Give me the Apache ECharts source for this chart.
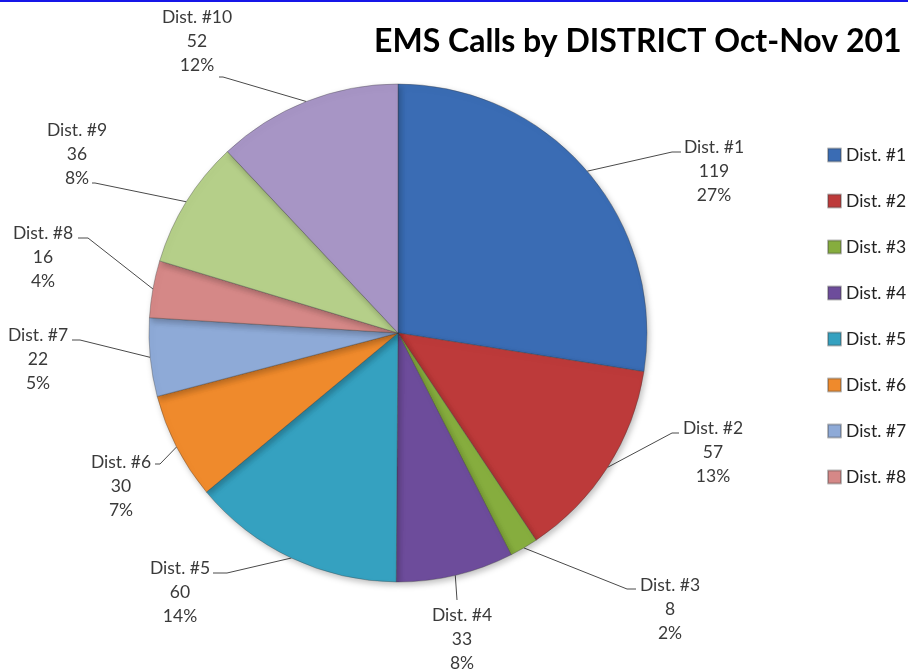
<!DOCTYPE html>
<html>
<head>
<meta charset="utf-8">
<script src="https://cdn.jsdelivr.net/npm/echarts@6/dist/echarts.min.js"></script>
<style>
  html, body { margin: 0; padding: 0; background: #fff; }
  #chart { width: 908px; height: 670px; }
</style>
</head>
<body>
<div id="chart"></div>
<script>
const districts = ['Dist. #1', 'Dist. #2', 'Dist. #3', 'Dist. #4', 'Dist. #5',
  'Dist. #6', 'Dist. #7', 'Dist. #8', 'Dist. #9', 'Dist. #10'];
const calls = [119, 57, 8, 33, 60, 30, 22, 16, 36, 52];
// legend in the picture is cut after #8
const legendNames = districts.slice(0, 8);

const COLORS = ['#3a6cb4', '#bd3a3a', '#86ad3e', '#6d4c9b', '#35a1c0',
  '#ef8a2c', '#8eaad7', '#d58887', '#b5cf89', '#a795c5'];

// label placement: [text centre x, first line centre y, bend x, bend y, end x]
const labelSpots = [
  [714, 147, 672, 152, 681],
  [713, 428, 672, 433, 679],
  [670, 585, 627, 589, 636],
  [462, 615, 457, 600, 457],
  [180, 568, 227, 573, 213],
  [121, 462, 160, 464, 155],
  [38, 335, 80, 340, 72],
  [43, 233, 88, 238, 78],
  [77, 130, 95, 183, 92],
  [197, 17, 223, 77, 219]
];

const chart = echarts.init(document.getElementById('chart'));

chart.setOption({
  animation: false,
  color: COLORS,
  title: {
    text: 'EMS Calls by DISTRICT Oct-Nov 201',
    left: 369,
    top: 21,
    textStyle: { fontFamily: 'Lato', fontSize: 32, fontWeight: 'bold', color: '#000' }
  },
  graphic: [
    { type: 'rect', shape: { x: 0, y: 0, width: 908, height: 2 }, style: { fill: '#1616e8' } }
  ],
  legend: {
    data: legendNames,
    orient: 'vertical',
    left: 822,
    top: 141,
    itemWidth: 13,
    itemHeight: 13,
    itemGap: 28,
    icon: 'rect',
    textStyle: { fontFamily: 'Lato', fontSize: 17.5, lineHeight: 18, color: '#222' }
  },
  series: [
    {
      type: 'pie',
      center: [398, 333],
      radius: 249,
      startAngle: 90,
      clockwise: true,
      avoidLabelOverlap: false,
      itemStyle: {
        borderColor: 'rgba(60,60,60,0.35)',
        borderWidth: 1,
        shadowBlur: 6,
        shadowOffsetX: 2,
        shadowOffsetY: 3,
        shadowColor: 'rgba(0,0,0,0.25)'
      },
      label: {
        show: true,
        position: 'outside',
        fontFamily: 'Lato',
        fontSize: 17.5,
        lineHeight: 24,
        color: '#3a3a3a',
        align: 'center',
        formatter: (p) => `${p.name}\n${p.value}\n${Math.round(p.percent)}%`
      },
      labelLine: { show: true, lineStyle: { color: '#4a4a4a', width: 1 } },
      labelLayout: (params) => {
        const s = labelSpots[params.dataIndex];
        const edge = params.labelLinePoints ? params.labelLinePoints[0] : [s[2], s[3]];
        return {
          x: s[0],
          y: s[1] - 12,
          align: 'center',
          verticalAlign: 'top',
          labelLinePoints: [edge, [s[2], s[3]], [s[4], s[3]]]
        };
      },
      emphasis: { disabled: true },
      data: districts.map((name, i) => ({ name, value: calls[i] }))
    }
  ]
});
</script>
</body>
</html>
